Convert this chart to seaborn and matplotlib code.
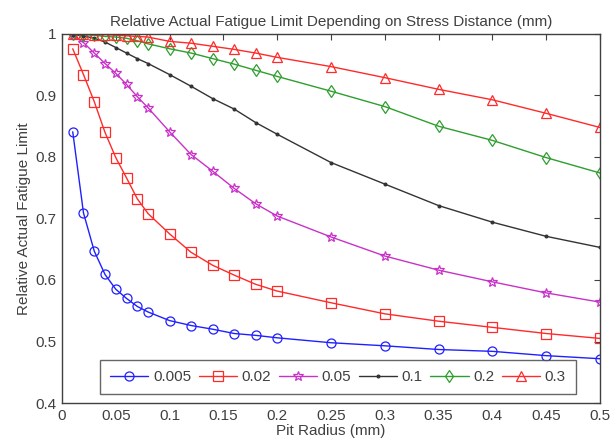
import pandas as pd
import matplotlib
matplotlib.use('Agg')
import matplotlib.pyplot as plt
import seaborn as sns

sns.set_style("white")
plt.rcParams['font.family'] = ['Liberation Sans', 'DejaVu Sans']

# pit radius (mm)
pit_radius = [0.01, 0.02, 0.03, 0.04, 0.05, 0.06, 0.07, 0.08, 0.1, 0.12,
              0.14, 0.16, 0.18, 0.2, 0.25, 0.3, 0.35, 0.4, 0.45, 0.5]

# stress distance labels
distances = ['0.005', '0.02', '0.05', '0.1', '0.2', '0.3']

fl_0005 = [0.841, 0.709, 0.647, 0.609, 0.585, 0.570, 0.557, 0.548, 0.534, 0.526,
           0.520, 0.513, 0.510, 0.506, 0.498, 0.493, 0.487, 0.484, 0.477, 0.472]
fl_002 = [0.976, 0.934, 0.890, 0.840, 0.799, 0.766, 0.732, 0.708, 0.675, 0.645,
          0.624, 0.608, 0.593, 0.582, 0.563, 0.545, 0.533, 0.523, 0.513, 0.505]
fl_005 = [0.998, 0.986, 0.969, 0.952, 0.936, 0.918, 0.898, 0.880, 0.841, 0.804,
          0.777, 0.749, 0.724, 0.704, 0.670, 0.639, 0.616, 0.597, 0.579, 0.564]
fl_01 = [0.999, 0.997, 0.993, 0.987, 0.978, 0.969, 0.960, 0.952, 0.934, 0.915,
         0.895, 0.878, 0.856, 0.837, 0.791, 0.756, 0.721, 0.694, 0.671, 0.653]
fl_02 = [1.000, 0.999, 0.998, 0.996, 0.995, 0.993, 0.989, 0.984, 0.976, 0.969,
         0.960, 0.951, 0.941, 0.931, 0.907, 0.882, 0.850, 0.827, 0.799, 0.774]
fl_03 = [1.000, 1.000, 0.999, 0.999, 0.998, 0.997, 0.996, 0.995, 0.988, 0.985,
         0.980, 0.975, 0.969, 0.962, 0.947, 0.929, 0.910, 0.893, 0.871, 0.848]

series = [fl_0005, fl_002, fl_005, fl_01, fl_02, fl_03]
colors = ['#2020ff', '#ff2a2a', '#c832c8', '#333333', '#2e9e2e', '#ff2a2a']
markers = ['o', 's', '*', '.', 'd', '^']
msizes = [6.5, 6.5, 7, 4, 6.5, 7]

fig = plt.figure(figsize=(6.16, 4.46), dpi=100)
ax = fig.add_axes([0.1006, 0.0964, 0.8734, 0.8274])

for lab, vals, c, m, ms in zip(distances, series, colors, markers, msizes):
    mfc = c if m == '.' else 'none'
    sns.lineplot(x=pit_radius, y=vals, ax=ax, color=c, marker=m, markersize=ms,
                 markerfacecolor=mfc, markeredgecolor=c, markeredgewidth=0.9,
                 linewidth=1.0, label=lab)

ax.set_xlim(0, 0.5)
ax.set_ylim(0.4, 1.0)
ax.set_xticks([0, 0.05, 0.1, 0.15, 0.2, 0.25, 0.3, 0.35, 0.4, 0.45, 0.5])
ax.set_xticklabels(['0', '0.05', '0.1', '0.15', '0.2', '0.25', '0.3', '0.35', '0.4', '0.45', '0.5'])
ax.set_yticks([0.4, 0.5, 0.6, 0.7, 0.8, 0.9, 1.0])
ax.set_yticklabels(['0.4', '0.5', '0.6', '0.7', '0.8', '0.9', '1'])
ax.tick_params(direction='in', top=True, right=True, length=4, width=0.8,
               labelsize=11, labelcolor='#404040', color='#404040', pad=4)
for s in ax.spines.values():
    s.set_color('#404040')
    s.set_linewidth(1.0)

ax.set_title('Relative Actual Fatigue Limit Depending on Stress Distance (mm)',
             fontsize=11, color='#404040', pad=6)
ax.set_xlabel('Pit Radius (mm)', fontsize=11, color='#404040', labelpad=1)
ax.set_ylabel('Relative Actual Fatigue Limit', fontsize=11, color='#404040', labelpad=3)

leg = ax.legend(loc='lower center', ncol=6, fontsize=11, frameon=True, fancybox=False,
                edgecolor='#404040', handlelength=2.5, columnspacing=0.5,
                handletextpad=0.3, borderpad=0.65, borderaxespad=0.6,
                bbox_to_anchor=(0.513, 0.0))
leg.get_frame().set_linewidth(1.0)
for t in leg.get_texts():
    t.set_color('#404040')

fig.savefig('out.png', dpi=100)
